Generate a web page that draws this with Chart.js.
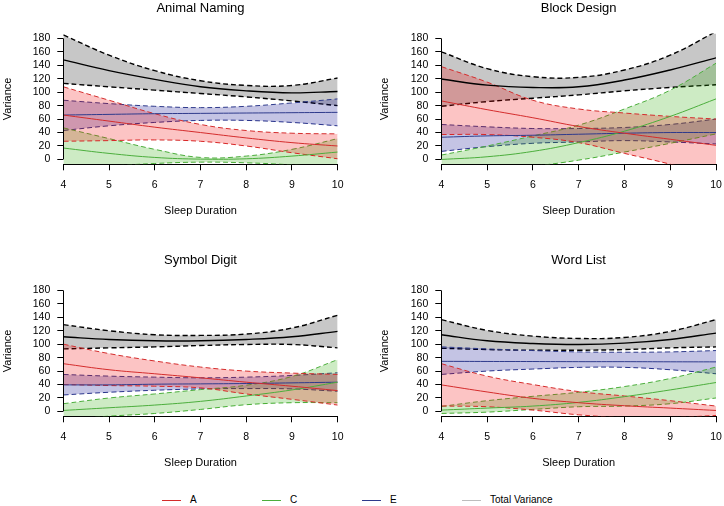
<!DOCTYPE html>
<html><head><meta charset="utf-8">
<script src="https://cdn.jsdelivr.net/npm/chart.js@4.4.1/dist/chart.umd.min.js"></script>
<style>
html,body{margin:0;padding:0;background:#fff;}
body{width:724px;height:506px;position:relative;overflow:hidden;font-family:"Liberation Sans",Arial,Helvetica,sans-serif;}
canvas{position:absolute;}
.leg{position:absolute;top:493px;height:14px;font-size:10px;line-height:14px;color:#000;}
.leg .l{position:absolute;left:0;top:7px;width:19px;height:1px;}
.leg .t{position:absolute;left:28px;top:0;white-space:nowrap;}
</style></head>
<body>
<canvas id="c1" width="362" height="226" style="left:0;top:0"></canvas>
<canvas id="c2" width="362" height="226" style="left:362px;top:0"></canvas>
<canvas id="c3" width="362" height="226" style="left:0;top:252px"></canvas>
<canvas id="c4" width="362" height="226" style="left:362px;top:252px"></canvas>
<div id="legend"></div>
<script>
// ---- data ----
const sleep = [4, 5, 6, 7, 8, 9, 10];
const xTicks = [4, 5, 6, 7, 8, 9, 10];
const yTicks = [0, 20, 40, 60, 80, 100, 120, 140, 160, 180];
const panelTitles = ['Animal Naming', 'Block Design', 'Symbol Digit', 'Word List'];
const componentNames = ['A', 'C', 'E', 'Total Variance'];

// Animal Naming
const anTotEst = [148, 132, 119, 108, 102, 99, 101];
const anTotHi  = [185, 155, 132, 117, 110, 110, 121];
const anTotLo  = [113, 108, 103, 98, 93, 87, 80];
const anAEst = [66, 57, 48, 40, 32, 25, 20];
const anAHi  = [108, 88, 68, 52, 43, 39, 38];
const anALo  = [27, 28, 29, 27, 20, 10, 1];
const anCEst = [17, 9, 3, 0.5, 1, 5, 11];
const anCHi  = [47, 31, 15, 3, 5, 15, 31];
const anCLo  = [-15, -10, -6, -4, -5, -8, -12];
const anEEst = [66, 67, 68, 68.5, 69, 69.5, 70];
const anEHi  = [88, 83, 79, 77, 79, 84, 90];
const anELo  = [43, 50, 55, 58, 58, 55, 50];

// Block Design
const bdTotEst = [119.5, 110.5, 107, 108, 118, 133, 151];
const bdTotHi  = [160, 135, 123, 122, 133, 155, 190];
const bdTotLo  = [79, 86, 91, 96, 102, 107, 111];
const bdAEst = [87, 74, 62, 49, 39, 30, 21];
const bdAHi  = [138, 115, 88, 75, 69, 64, 60];
const bdALo  = [37, 37, 33, 25, 9, -7, -25];
const bdCEst = [0, 4, 12, 25, 42, 64, 90];
const bdCHi  = [6.5, 20, 35, 51, 75, 103, 143];
const bdCLo  = [-12, -15, -10, -1, 11, 24, 38];
const bdEEst = [33, 35, 36, 37.5, 39, 40, 40];
const bdEHi  = [52, 48.5, 46, 46, 47.5, 52, 60];
const bdELo  = [12, 19, 24, 26, 28, 26, 23];

// Symbol Digit
const sdTotEst = [111, 107, 105, 105, 107, 111, 119];
const sdTotHi  = [129, 120, 114, 113, 115, 124, 143];
const sdTotLo  = [93, 94.5, 96, 98, 99.5, 99.5, 94.5];
const sdAEst = [71, 62, 56, 50, 43.5, 37.5, 31];
const sdAHi  = [100, 86, 75, 66, 60, 57, 55];
const sdALo  = [40, 38.5, 37.5, 35, 26, 18, 9.5];
const sdCEst = [1.5, 5.5, 9.5, 15, 23, 32, 43.5];
const sdCHi  = [11.5, 20, 26, 32.5, 39, 52, 77];
const sdCLo  = [-12, -7, -3, 3, 10, 13, 13];
const sdEEst = [39.5, 39.5, 40.5, 41, 41.5, 42.5, 43.5];
const sdEHi  = [55, 52.5, 51, 50, 51, 53.5, 57.5];
const sdELo  = [24.5, 28.5, 31.5, 33.5, 34, 33.5, 30];

// Word List
const wlTotEst = [114, 105, 101, 99.5, 101.5, 107, 116.5];
const wlTotHi  = [136.5, 120.5, 112, 108.5, 110, 119, 136.5];
const wlTotLo  = [94, 92, 91, 91, 92, 94.5, 96];
const wlAEst = [39.5, 29, 19.5, 13, 8.5, 5, 1.5];
const wlAHi  = [71, 52.5, 40, 29.5, 23, 16, 8];
const wlALo  = [8, 7, 2, -5, -9, -9, -6];
const wlCEst = [2, 5, 8, 13.5, 22, 32, 43];
const wlCHi  = [7.5, 16, 22.5, 28.5, 37, 49, 66];
const wlCLo  = [-3, -1, 3, 7, 8, 11.5, 20];
const wlEEst = [74.5, 74.3, 74.2, 74, 74, 73.8, 73.7];
const wlEHi  = [96, 93, 90.5, 88.5, 88, 88.5, 90.5];
const wlELo  = [55, 60, 63, 65.5, 65.5, 62, 56];

// ---- styles ----
const FONT = "'Liberation Sans', Arial, Helvetica, sans-serif";
const STY = {
  A: {line: '#d42c2c', fill: 'rgba(240,0,0,0.23)', w: 1},
  C: {line: '#4cae3c', fill: 'rgba(40,170,0,0.23)', w: 1},
  E: {line: '#2e3a8c', fill: 'rgba(0,0,140,0.23)', w: 1},
  T: {line: '#000000', fill: 'rgba(0,0,0,0.22)', w: 1.4}
};
const legendColors = ['#d42c2c', '#4cae3c', '#2e3a8c', '#bdbdbd'];

function pts(arr) { return sleep.map((x, i) => ({x: x, y: arr[i]})); }

const yAxisLine = {
  id: 'yAxisLine',
  afterDraw(chart) {
    const ys = chart.scales.y, ctx = chart.ctx;
    const x = Math.round(chart.chartArea.left - 0.5) + 0.5;
    ctx.save();
    ctx.strokeStyle = '#000'; ctx.lineWidth = 1;
    ctx.beginPath();
    ctx.moveTo(x, ys.getPixelForValue(yTicks[0]));
    ctx.lineTo(x, ys.getPixelForValue(yTicks[yTicks.length - 1]));
    ctx.stroke();
    ctx.restore();
  }
};

function makeChart(id, title, comps, leftW, rightPad, yTitlePad) {
  const datasets = [];
  comps.forEach(c => {
    datasets.push({data: pts(c.est), borderColor: c.s.line, borderWidth: c.s.w, fill: false,
      pointRadius: 0, tension: 0.4});
  });
  comps.forEach(c => {
    datasets.push({data: pts(c.hi), borderColor: c.s.line, borderWidth: c.s.w, borderDash: [5, 3],
      fill: '+1', backgroundColor: c.s.fill, pointRadius: 0, tension: 0.4});
    datasets.push({data: pts(c.lo), borderColor: c.s.line, borderWidth: c.s.w, borderDash: [5, 3],
      fill: false, pointRadius: 0, tension: 0.4});
  });
  return new Chart(document.getElementById(id), {
    type: 'line',
    data: {datasets: datasets},
    plugins: [yAxisLine],
    options: {
      responsive: false, animation: false, devicePixelRatio: 1,
      layout: {padding: {left: 0, right: rightPad, top: 0, bottom: 0}},
      plugins: {
        legend: {display: false}, tooltip: {enabled: false},
        title: {display: true, text: title, fullSize: false, color: '#000',
          font: {family: FONT, size: 13, weight: 'normal'}, padding: {top: 1, bottom: 16.9}}
      },
      scales: {
        x: {
          type: 'linear', min: 4, max: 10, bounds: 'data',
          afterBuildTicks: s => { s.ticks = xTicks.map(v => ({value: v})); },
          afterFit: s => { s.height = 61.7; s.paddingLeft = 0; s.paddingRight = 0; },
          ticks: {color: '#000', font: {family: FONT, size: 10.5}, padding: 9, maxRotation: 0,
            autoSkip: false, callback: v => String(v)},
          grid: {drawOnChartArea: false, drawTicks: true, tickLength: 6, color: '#000', lineWidth: 1},
          border: {display: true, color: '#000', width: 1},
          title: {display: true, text: 'Sleep Duration', color: '#000',
            font: {family: FONT, size: 11}, padding: {top: 0, bottom: 8.7}}
        },
        y: {
          type: 'linear', min: -7.2, max: 187.2, bounds: 'data',
          afterBuildTicks: s => { s.ticks = yTicks.map(v => ({value: v})); },
          afterFit: s => { s.width = leftW; s.paddingTop = 0; s.paddingBottom = 0; },
          ticks: {color: '#000', font: {family: FONT, size: 10.5}, padding: 7, autoSkip: false,
            callback: v => String(v)},
          grid: {drawOnChartArea: false, drawTicks: true, tickLength: 6, color: '#000', lineWidth: 1},
          border: {display: false},
          title: {display: true, text: 'Variance', color: '#000',
            font: {family: FONT, size: 11}, padding: {top: yTitlePad, bottom: 0}}
        }
      }
    }
  });
}

function comps(tE, tH, tL, aE, aH, aL, cE, cH, cL, eE, eH, eL) {
  return [
    {s: STY.A, est: aE, hi: aH, lo: aL},
    {s: STY.C, est: cE, hi: cH, lo: cL},
    {s: STY.E, est: eE, hi: eH, lo: eL},
    {s: STY.T, est: tE, hi: tH, lo: tL}
  ];
}

makeChart('c1', panelTitles[0], comps(anTotEst, anTotHi, anTotLo, anAEst, anAHi, anALo, anCEst, anCHi, anCLo, anEEst, anEHi, anELo), 63.3, 24.3, 1.4);
makeChart('c2', panelTitles[1], comps(bdTotEst, bdTotHi, bdTotLo, bdAEst, bdAHi, bdALo, bdCEst, bdCHi, bdCLo, bdEEst, bdEHi, bdELo), 79.3, 8, 16.7);
makeChart('c3', panelTitles[2], comps(sdTotEst, sdTotHi, sdTotLo, sdAEst, sdAHi, sdALo, sdCEst, sdCHi, sdCLo, sdEEst, sdEHi, sdELo), 63.3, 24.3, 1.4);
makeChart('c4', panelTitles[3], comps(wlTotEst, wlTotHi, wlTotLo, wlAEst, wlAHi, wlALo, wlCEst, wlCHi, wlCLo, wlEEst, wlEHi, wlELo), 79.3, 8, 16.7);

// legend
const lg = document.getElementById('legend');
componentNames.forEach((n, i) => {
  const d = document.createElement('div');
  d.className = 'leg';
  d.style.left = (162 + i * 100) + 'px';
  d.innerHTML = '<span class="l" style="background:' + legendColors[i] + '"></span><span class="t"></span>';
  d.querySelector('.t').textContent = n;
  lg.appendChild(d);
});
</script>
</body></html>
